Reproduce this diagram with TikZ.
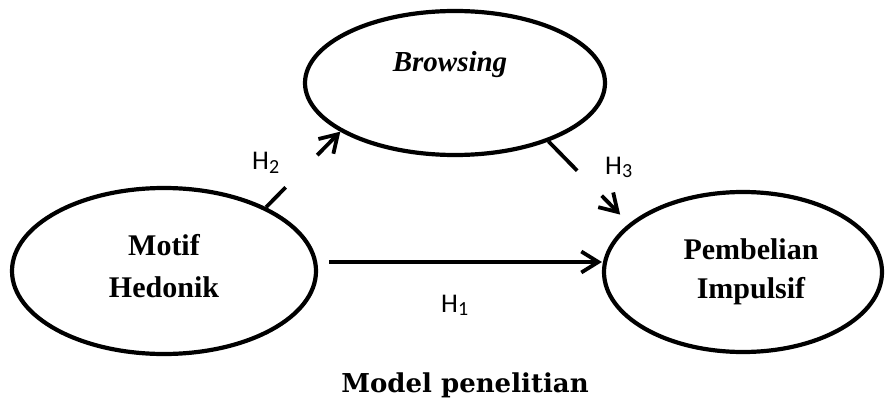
\documentclass[tikz,border=0pt]{standalone}
\usepackage{fontspec}
\newfontfamily\boxfont{Liberation Serif}
\newfontfamily\hypfont{Carlito}
\newfontfamily\capfont{DejaVu Serif}
\usetikzlibrary{shapes.geometric,arrows.meta}
% hypothesis label: H with a lowered index
\newcommand{\hyp}[1]{{\hypfont\fontsize{27}{27}\selectfont H\raisebox{-3pt}{\fontsize{20}{20}\selectfont #1}}}
\begin{document}
\begin{tikzpicture}[x=1pt,y=-1pt,
  construct/.style={ellipse, draw, line width=4.2pt, inner sep=0pt},
  boxtext/.style={font=\boxfont\bfseries\fontsize{30}{36}\selectfont, inner sep=0pt, anchor=base},
  hyplabel/.style={inner sep=0pt, anchor=base west},
  relpath/.style={line width=3.8pt, -{Straight Barb[length=17pt,width=21pt]}},
]
\useasboundingbox (0,0) rectangle (885,398);

% constructs
\node[construct, minimum width=304pt, minimum height=166pt] (motif) at (164,271) {};
\node[construct, minimum width=278pt, minimum height=160pt] (pemb) at (743,272) {};
\node[construct, minimum width=300pt, minimum height=144pt] (brow) at (455,83) {};

% construct names
\node[boxtext] (m1) at (164,255) {Motif};
\node[boxtext] (m2) at (164,297) {Hedonik};
\node[boxtext] (p1) at (751,259) {Pembelian};
\node[boxtext] (p2) at (751,298) {Impulsif};
\node[boxtext, font=\boxfont\bfseries\itshape\fontsize{29}{29}\selectfont] (b1) at (450,72) {Browsing};

% relations
\draw[relpath] ([shift={(11pt,9pt)}]motif.east) -- ([shift={(0pt,10pt)}]pemb.west);
\draw[relpath, dash pattern=on 28pt off 45pt on 300pt] (motif.32) -- (brow.203);
\draw[relpath, dash pattern=on 41pt off 35pt on 300pt, shorten >=12.7pt] (brow.328) -- (pemb.157);

% hypothesis labels
\node[hyplabel] (h1) at (441,312) {\hyp{1}};
\node[hyplabel] (h2) at (252,170) {\hyp{2}};
\node[hyplabel] (h3) at (605,175) {\hyp{3}};

% caption
\node[inner sep=0pt, anchor=base, font=\capfont\bfseries\fontsize{26}{30}\selectfont] (title) at (465,392) {Model penelitian};
\end{tikzpicture}
\end{document}
